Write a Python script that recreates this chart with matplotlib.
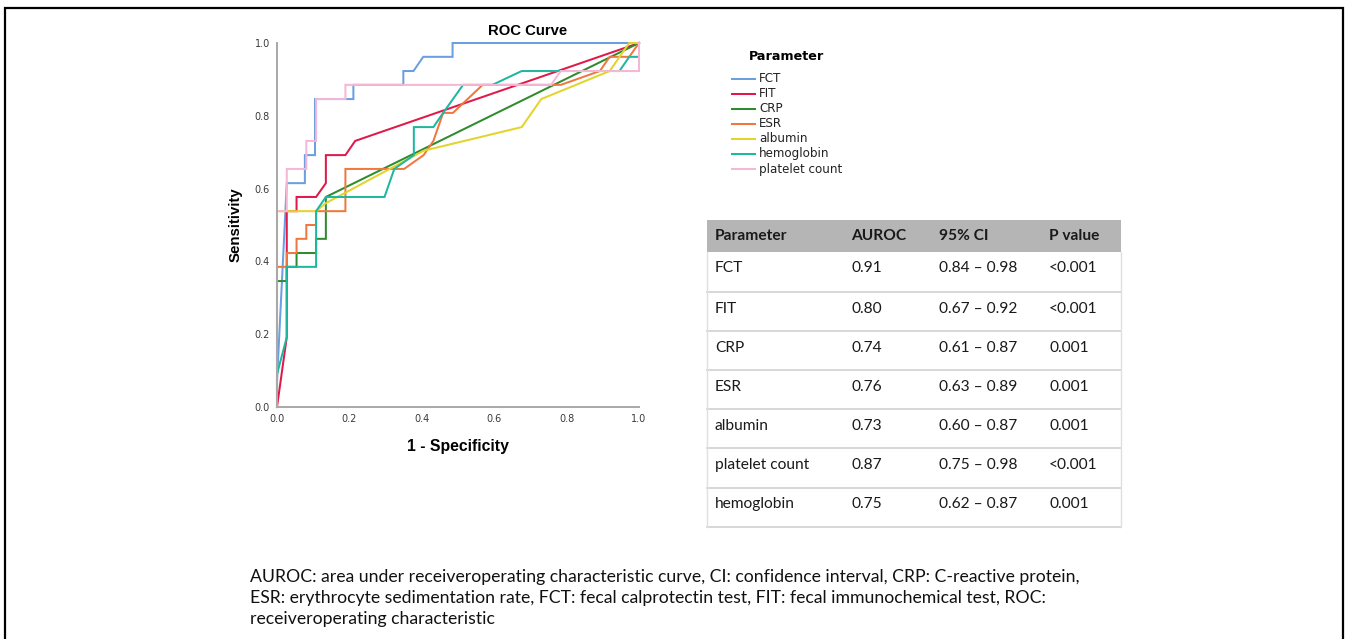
import matplotlib
matplotlib.use("Agg")
import matplotlib.pyplot as plt
from matplotlib.lines import Line2D
from matplotlib.patches import Rectangle

W, H = 1349, 639

# ---------------- data ----------------
params = ["FCT", "FIT", "CRP", "ESR", "albumin", "hemoglobin", "platelet count"]
colors = ["#6a9fe0", "#e0194a", "#2e8b2e", "#f07840", "#e3d42c", "#1fb79e", "#f6b6d6"]

fct_x = [0, 0, 0.027, 0.077, 0.077, 0.105, 0.105, 0.211, 0.211, 0.349, 0.349, 0.377, 0.404, 0.485, 0.485, 1.0]
fct_y = [0, 0.07, 0.615, 0.615, 0.692, 0.692, 0.846, 0.846, 0.885, 0.885, 0.923, 0.923, 0.962, 0.962, 1.0, 1.0]

fit_x = [0, 0.027, 0.027, 0.054, 0.054, 0.108, 0.135, 0.135, 0.189, 0.216, 1.0]
fit_y = [0, 0.192, 0.538, 0.538, 0.577, 0.577, 0.615, 0.692, 0.692, 0.731, 1.0]

crp_x = [0, 0, 0.027, 0.027, 0.054, 0.054, 0.108, 0.108, 0.135, 0.135, 1.0]
crp_y = [0, 0.346, 0.346, 0.385, 0.385, 0.423, 0.423, 0.462, 0.462, 0.577, 1.0]

esr_x = [0, 0, 0.027, 0.027, 0.054, 0.054, 0.081, 0.081, 0.108, 0.108, 0.189, 0.189,
         0.351, 0.405, 0.432, 0.459, 0.486, 0.568, 0.784, 0.892, 0.919, 0.973, 1.0]
esr_y = [0, 0.385, 0.385, 0.423, 0.423, 0.462, 0.462, 0.5, 0.5, 0.538, 0.538, 0.654,
         0.654, 0.692, 0.731, 0.808, 0.808, 0.885, 0.885, 0.923, 0.962, 0.962, 1.0]

alb_x = [0, 0, 0.108, 0.135, 0.405, 0.676, 0.730, 0.919, 0.973, 1.0]
alb_y = [0, 0.538, 0.538, 0.560, 0.704, 0.769, 0.846, 0.923, 1.0, 1.0]

hgb_x = [0, 0, 0.027, 0.027, 0.108, 0.108, 0.135, 0.297, 0.324, 0.378, 0.378, 0.432,
         0.459, 0.514, 0.595, 0.676, 0.946, 0.973, 1.0, 1.0]
hgb_y = [0, 0.09, 0.192, 0.385, 0.385, 0.538, 0.577, 0.577, 0.654, 0.692, 0.769, 0.769,
         0.808, 0.885, 0.885, 0.923, 0.923, 0.962, 0.962, 1.0]

plt_x = [0, 0, 0.027, 0.027, 0.081, 0.081, 0.108, 0.108, 0.189, 0.189, 0.757, 0.784, 1.0, 1.0]
plt_y = [0, 0.538, 0.538, 0.654, 0.654, 0.731, 0.731, 0.846, 0.846, 0.885, 0.885, 0.923, 0.923, 1.0]

curves_x = [fct_x, fit_x, crp_x, esr_x, alb_x, hgb_x, plt_x]
curves_y = [fct_y, fit_y, crp_y, esr_y, alb_y, hgb_y, plt_y]

ticks = [0.0, 0.2, 0.4, 0.6, 0.8, 1.0]
tick_labels = ["0.0", "0.2", "0.4", "0.6", "0.8", "1.0"]

tbl_header = ["Parameter", "AUROC", "95% CI", "P value"]
tbl_param = ["FCT", "FIT", "CRP", "ESR", "albumin", "platelet count", "hemoglobin"]
tbl_auroc = ["0.91", "0.80", "0.74", "0.76", "0.73", "0.87", "0.75"]
tbl_ci = ["0.84 \u2013 0.98", "0.67 \u2013 0.92", "0.61 \u2013 0.87", "0.63 \u2013 0.89",
          "0.60 \u2013 0.87", "0.75 \u2013 0.98", "0.62 \u2013 0.87"]
tbl_p = ["<0.001", "<0.001", "0.001", "0.001", "0.001", "<0.001", "0.001"]

caption = ["AUROC: area under receiveroperating characteristic curve, CI: confidence interval, CRP: C-reactive protein,",
           "ESR: erythrocyte sedimentation rate, FCT: fecal calprotectin test, FIT: fecal immunochemical test, ROC:",
           "receiveroperating characteristic"]

# ---------------- figure ----------------
fig = plt.figure(figsize=(W / 100, H / 100), dpi=100)
fig.patch.set_facecolor("white")

def fx(x):
    return x / W

def fy(y):
    return 1 - y / H

# outer frame
fig.patches.append(Rectangle((fx(5), fy(700)), fx(1343) - fx(5), fy(8) - fy(700),
                             transform=fig.transFigure, fill=False, edgecolor="black",
                             linewidth=1.6, clip_on=False))

ax_l, ax_r, ax_t, ax_b = 277, 639, 43, 407
ax = fig.add_axes([fx(ax_l), fy(ax_b), fx(ax_r) - fx(ax_l), fy(ax_t) - fy(ax_b)])
handles = []
for xs, ys, c, name in zip(curves_x, curves_y, colors, params):
    ln, = ax.plot(xs, ys, color=c, lw=1.45, clip_on=False, label=name, solid_joinstyle="miter")
    handles.append(ln)

ax.set_xlim(0, 1)
ax.set_ylim(0, 1)
for s in ["top", "right"]:
    ax.spines[s].set_visible(False)
for s in ["left", "bottom"]:
    ax.spines[s].set_color("#a8a8a8")
    ax.spines[s].set_linewidth(1.4)
ax.set_xticks(ticks)
ax.set_xticklabels(tick_labels)
ax.set_yticks(ticks)
ax.set_yticklabels(tick_labels)
ax.tick_params(length=0, labelsize=7, colors="#3a3a3a", pad=5)

lab_font = "Liberation Sans"
ax.set_xlabel("1 - Specificity", fontsize=11.3, fontweight="bold", family=lab_font, labelpad=11)
ax.set_ylabel("Sensitivity", fontsize=10.8, fontweight="bold", family=lab_font, labelpad=9)

fig.text(fx(527.5), fy(31), "ROC Curve", fontsize=10.7, fontweight="bold", family=lab_font,
         ha="center", va="center")

# legend (placed by hand to match the layout)
fig.text(fx(786.5), fy(57), "Parameter", fontsize=9.2, fontweight="bold", ha="center", va="center")
for i, (h, name) in enumerate(zip(handles, params)):
    yc = 78.5 + i * 15.1
    fig.add_artist(Line2D([fx(731.5), fx(755)], [fy(yc), fy(yc)], transform=fig.transFigure,
                          color=h.get_color(), lw=1.45))
    fig.text(fx(759), fy(yc), name, fontsize=8.6, ha="left", va="center", color="#222222")

# ---------------- table ----------------
tfont = "Lato"
tl, tr = 706.5, 1121
head_top, head_bot = 220, 252
row_lines = [292.3, 331.3, 370.3, 409.3, 448.3, 487.5, 526.7]
col_x = [715, 851.5, 939, 1049]

fig.patches.append(Rectangle((fx(tl), fy(head_bot)), fx(tr) - fx(tl), fy(head_top) - fy(head_bot),
                             transform=fig.transFigure, facecolor="#b5b5b5", edgecolor="none"))
for y in row_lines:
    fig.add_artist(Line2D([fx(tl), fx(tr)], [fy(y), fy(y)], transform=fig.transFigure,
                          color="#d4d4d4", lw=1.3))
for x in [tl, tr]:
    fig.add_artist(Line2D([fx(x), fx(x)], [fy(head_bot), fy(row_lines[-1])], transform=fig.transFigure,
                          color="#e0e0e0", lw=1.0))

for cx, txt in zip(col_x, tbl_header):
    fig.text(fx(cx), fy(235.5), txt, fontsize=11.2, fontweight="bold", family=tfont,
             ha="left", va="center", color="#1a1a1a")

prev = head_bot
for i in range(len(tbl_param)):
    yc = prev + 16.5
    prev = row_lines[i]
    for cx, txt in zip(col_x, [tbl_param[i], tbl_auroc[i], tbl_ci[i], tbl_p[i]]):
        fig.text(fx(cx), fy(yc), txt, fontsize=11.2, family=tfont, ha="left", va="center",
                 color="#1a1a1a")

# ---------------- caption ----------------
for yc, line in zip([577, 598, 619], caption):
    fig.text(fx(250), fy(yc), line, fontsize=12.7, family=tfont, ha="left", va="center",
             color="#111111")

fig.savefig("out.png", dpi=100, facecolor="white")
